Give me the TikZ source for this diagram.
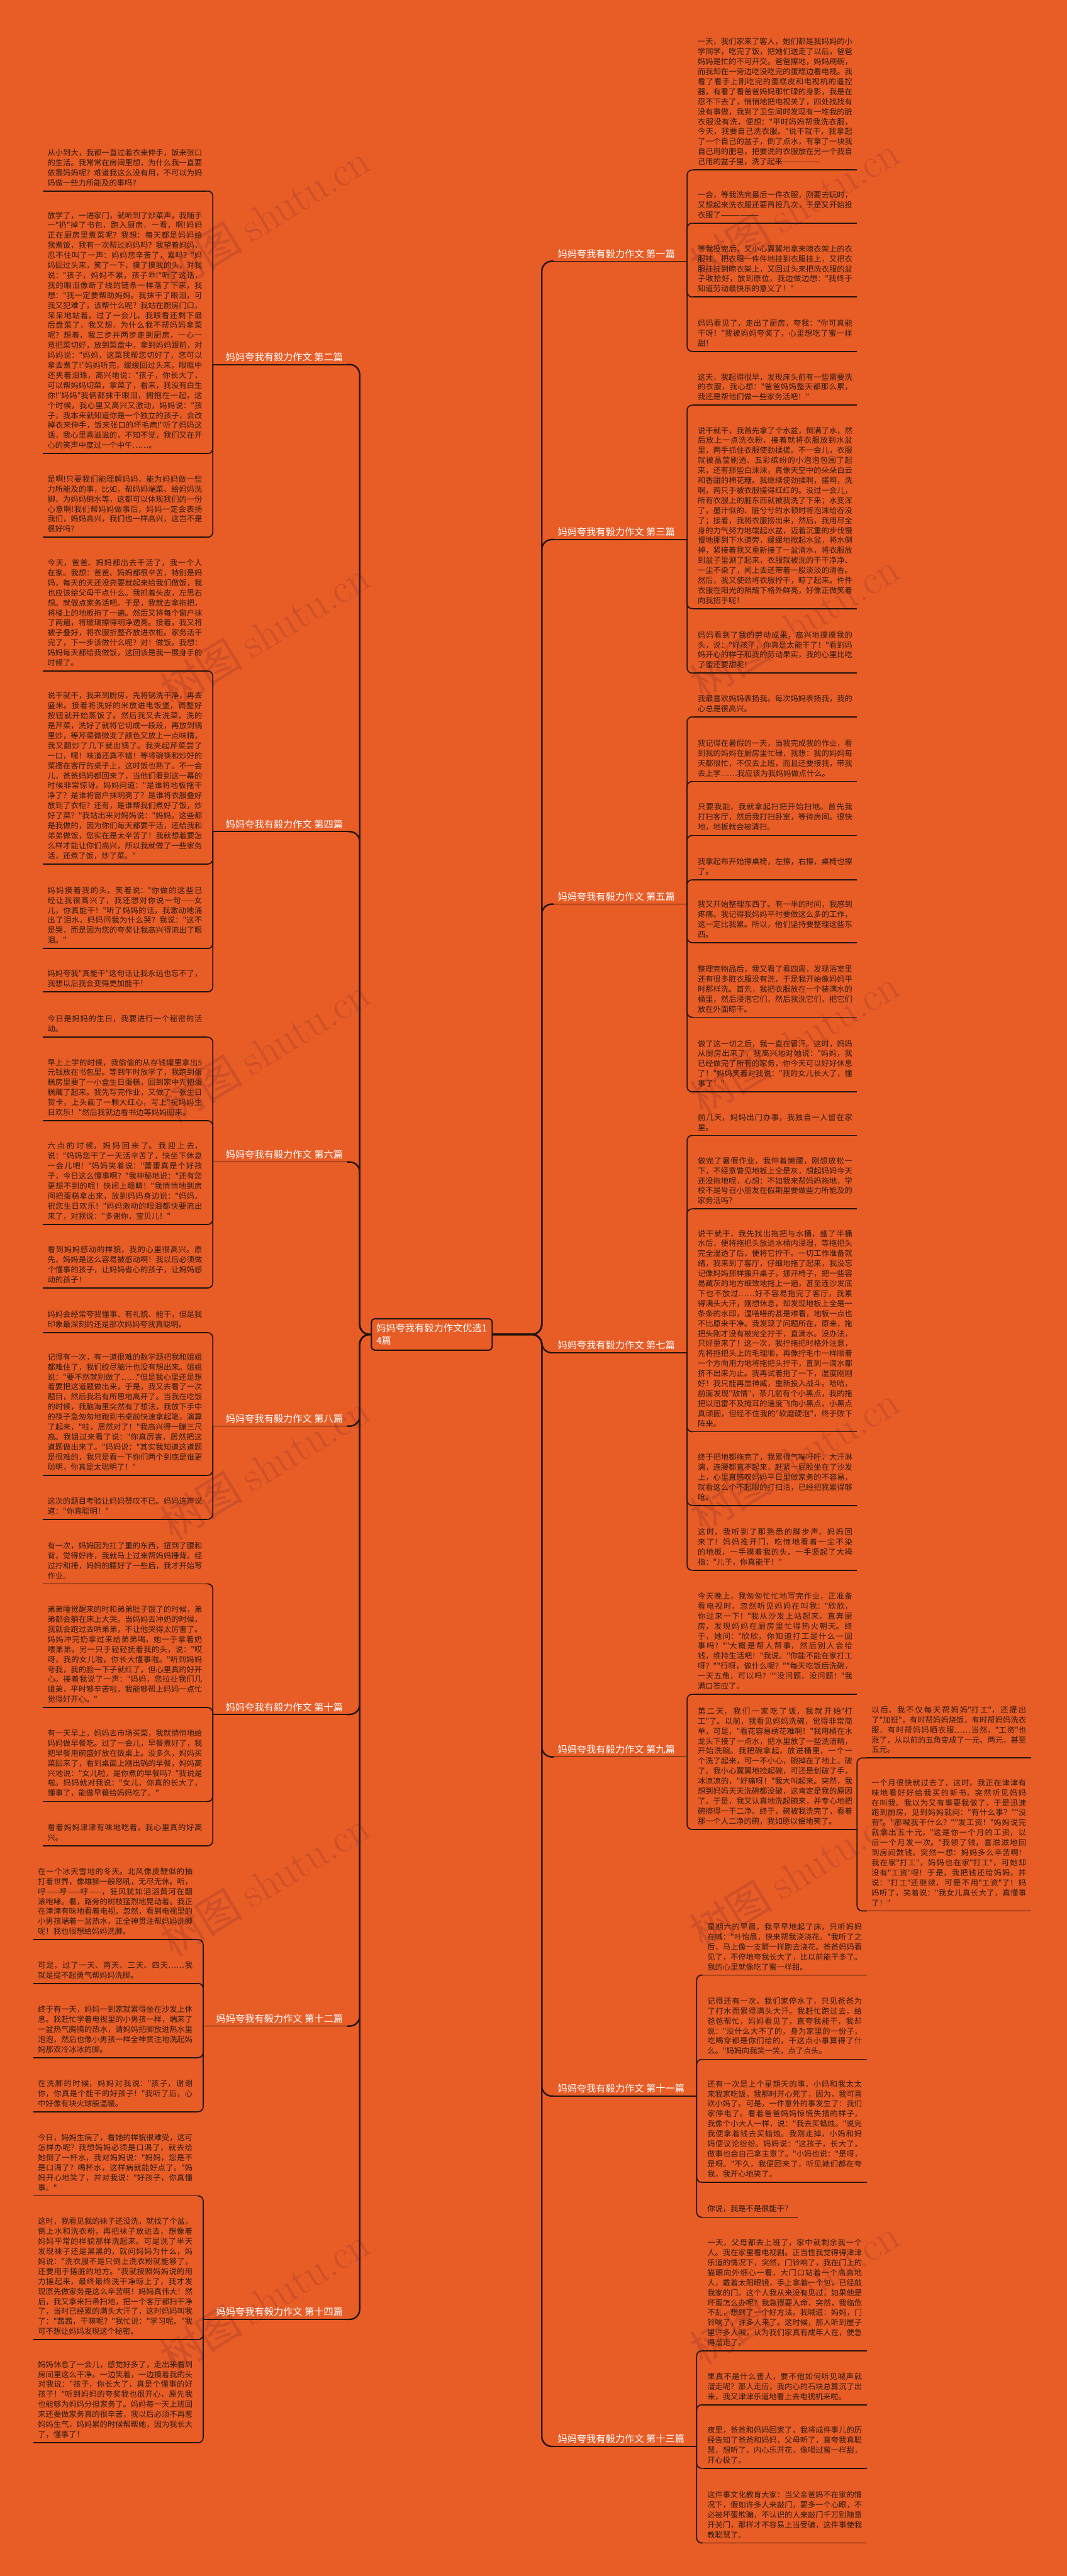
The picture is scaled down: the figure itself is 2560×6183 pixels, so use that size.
\documentclass[tikz,border=0pt]{standalone}
\usepackage{fontspec}
\newfontfamily\cjk{Noto Sans CJK SC}
\XeTeXlinebreaklocale "zh"
\XeTeXlinebreakskip=0pt plus 2pt

\begin{document}
\begin{tikzpicture}[x=1pt, y=-1pt,
  leaf/.style={anchor=north west, text width=371pt, align=justify, inner xsep=11pt, inner ysep=11pt, font=\cjk\fontsize{18.5}{24}\selectfont, text=inkbrown},
  topic/.style={font=\cjk\fontsize{23}{28}\selectfont, text=white, inner xsep=10pt, inner ysep=7pt},
  uline/.style={draw=linebrown, line width=2.6pt},
  twig/.style={draw=linebrown, line width=2.6pt, rounded corners=12pt},
  trunk/.style={draw=linebrown, line width=3.6pt, rounded corners=24pt},
  wmark/.style={font=\cjk\fontsize{100}{110}\selectfont, text=wmcol, rotate=31.5}]
  \definecolor{bgorange}{RGB}{232,92,38}
  \definecolor{wmcol}{RGB}{206,80,40}
  \definecolor{inkbrown}{RGB}{48,27,18}
  \definecolor{linebrown}{RGB}{35,20,12}

  % page and watermarks
  \useasboundingbox (0,0) rectangle (2560,6183);
  \fill[bgorange] (0,0) rectangle (2560,6183);
  \foreach \k in {0,...,5} {
    \node[wmark] (wl\k) at (635, 520+1000*\k) {树图 {\rmfamily shutu.cn}};
    \node[wmark] (wr\k) at (1906, 500+1000*\k) {树图 {\rmfamily shutu.cn}};
  }

  % root
  \node[draw=linebrown, line width=3pt, rounded corners=8pt, inner sep=12pt, align=left, font=\cjk\fontsize{23}{30}\selectfont, text=white] (root) at (1036, 3203) {妈妈夸我有毅力作文优选1\\4篇};

  % topics, right side
  \node[topic, anchor=south west] (lab1) at (1328, 627) {妈妈夸我有毅力作文 第一篇};
  \node[topic, anchor=south west] (lab3) at (1328, 1295) {妈妈夸我有毅力作文 第三篇};
  \node[topic, anchor=south west] (lab5) at (1328, 2170) {妈妈夸我有毅力作文 第五篇};
  \node[topic, anchor=south west] (lab7) at (1328, 3247) {妈妈夸我有毅力作文 第七篇};
  \node[topic, anchor=south west] (lab9) at (1328, 4217) {妈妈夸我有毅力作文 第九篇};
  \node[topic, anchor=south west] (lab11) at (1328, 5031) {妈妈夸我有毅力作文 第十一篇};
  \node[topic, anchor=south west] (lab13) at (1328, 5872) {妈妈夸我有毅力作文 第十三篇};

  % topics, left side
  \node[topic, anchor=south east] (lab2) at (833, 875) {妈妈夸我有毅力作文 第二篇};
  \node[topic, anchor=south east] (lab4) at (833, 1996) {妈妈夸我有毅力作文 第四篇};
  \node[topic, anchor=south east] (lab6) at (833, 2789) {妈妈夸我有毅力作文 第六篇};
  \node[topic, anchor=south east] (lab8) at (833, 3423) {妈妈夸我有毅力作文 第八篇};
  \node[topic, anchor=south east] (lab10) at (833, 4115) {妈妈夸我有毅力作文 第十篇};
  \node[topic, anchor=south east] (lab12) at (833, 4863) {妈妈夸我有毅力作文 第十二篇};
  \node[topic, anchor=south east] (lab14) at (833, 5567) {妈妈夸我有毅力作文 第十四篇};

  % leaves of the first essay
  \node[leaf] (r1a) at (1663, 80) {一天，我们家来了客人，她们都是我妈妈的小学同学，吃完了饭，把她们送走了以后，爸爸妈妈是忙的不可开交。爸爸擦地，妈妈刷碗，而我却在一旁边吃没吃完的蛋糕边看电视。我看了看手上刚吃完的蛋糕皮和电视机的遥控器，有看了看爸爸妈妈那忙碌的身影，我是在忍不下去了，悄悄地把电视关了，四处找找有没有事做，我到了卫生间时发现有一堆我的脏衣服没有洗，便想："平时妈妈帮我洗衣服，今天，我要自己洗衣服。"说干就干，我拿起了一个自己的盆子，倒了点水，有拿了一块我自己用的肥皂，把要洗的衣服放在另一个我自己用的盆子里，洗了起来——————};
  \node[leaf] (r1b) at (1663, 448) {一会，等我洗完最后一件衣服，刚要去玩时，又想起来洗衣服还要再投几次，于是又开始投衣服了——————};
  \node[leaf] (r1c) at (1663, 577) {等我投完后，又小心翼翼地拿来晾衣架上的衣服挂，把衣服一件件地挂到衣服挂上，又把衣服挂挂到晾衣架上，又回过头来把洗衣服的盆子收拾好，放到原位，我边做边想："我终于知道劳动最快乐的意义了！"};
  \node[leaf] (r1d) at (1663, 756) {妈妈看见了，走出了厨房，夸我："你可真能干呀！"我被妈妈夸奖了，心里想吃了蜜一样甜！};

  % leaves of the third essay
  \node[leaf] (r3a) at (1663, 885) {这天，我起得很早，发现床头前有一些需要洗的衣服，我心想："爸爸妈妈整天都那么累，我还是帮他们做一些家务活吧！"};
  \node[leaf] (r3b) at (1663, 1013) {说干就干，我首先拿了个水盆，倒满了水，然后放上一点洗衣粉，接着就将衣服放到水盆里，两手抓住衣服使劲揉搓。不一会儿，衣服就被晶莹剔透、五彩缤纷的小泡泡包围了起来，还有那些白沫沫，真像天空中的朵朵白云和香甜的棉花糖。我继续使劲揉啊，搓啊，洗啊，两只手被衣服搓得红红的。没过一会儿，所有衣服上的脏东西就被我洗了下来；水变浑了，墨汁似的、脏兮兮的水顿时将泡沫给吞没了；接着，我将衣服捞出来，然后，我用尽全身的力气努力地端起水盆，迈着沉重的步伐慢慢地挪到下水道旁，缓缓地掀起水盆，将水倒掉，紧接着我又重新接了一盆清水，将衣服放到盆子里涮了起来，衣服就被洗的干干净净、一尘不染了，闻上去还带着一股淡淡的清香。然后，我又使劲将衣服拧干，晾了起来。件件衣服在阳光的照耀下格外鲜亮，好像正微笑着向我招手呢！};
  \node[leaf] (r3c) at (1663, 1504) {妈妈看到了我的劳动成果，高兴地摸摸我的头，说："好孩子，你真是太能干了！"看到妈妈开心的样子和我的劳动果实，我的心里比吃了蜜还要甜呢！};

  % leaves of the fifth essay
  \node[leaf] (r5a) at (1663, 1657) {我最喜欢妈妈表扬我。每次妈妈表扬我，我的心总是很高兴。};
  \node[leaf] (r5b) at (1663, 1764) {我记得在暑假的一天，当我完成我的作业，看到我的妈妈在厨房里忙碌，我想：我的妈妈每天都很忙，不仅去上班，而且还要接我，带我去上学……我应该为我妈妈做点什么。};
  \node[leaf] (r5c) at (1663, 1917) {只要我能，我就拿起扫把开始扫地。首先我打扫客厅，然后我打扫卧室，等待房间。很快地，地板就会被清扫。};
  \node[leaf] (r5d) at (1663, 2048) {我拿起布开始擦桌椅，左擦，右擦，桌椅也擦了。};
  \node[leaf] (r5e) at (1663, 2151) {我又开始整理东西了。有一半的时间，我感到疼痛。我记得我妈妈平时要做这么多的工作，这一定比我累。所以，他们坚持要整理这些东西。};
  \node[leaf] (r5f) at (1663, 2306) {整理完物品后，我又看了看四周，发现浴室里还有很多脏衣服没有洗，于是我开始像妈妈平时那样洗。首先，我把衣服放在一个装满水的桶里，然后浸泡它们，然后我洗它们，把它们放在外面晾干。};
  \node[leaf] (r5g) at (1663, 2485) {做了这一切之后，我一直在冒汗。这时，妈妈从厨房出来了，我高兴地对她说："妈妈，我已经做完了所有的家务，你今天可以好好休息了！"妈妈笑着对我说："我的女儿长大了，懂事了！"};

  % leaves of the seventh essay
  \node[leaf] (r7a) at (1663, 2662) {前几天，妈妈出门办事，我独自一人留在家里。};
  \node[leaf] (r7b) at (1663, 2766) {做完了暑假作业，我伸着懒腰，刚想放松一下，不经意瞥见地板上全是灰，想起妈妈今天还没拖地呢，心想：不如我来帮妈妈拖地，学校不是号召小朋友在假期里要做些力所能及的家务活吗？};
  \node[leaf] (r7c) at (1663, 2941) {说干就干，我先找出拖把与水桶，盛了半桶水后，便将拖把头放进水桶内浸湿，等拖把头完全湿透了后，便将它拧干。一切工作准备就绪，我来到了客厅，仔细地拖了起来，我没忘记像妈妈那样搬开桌子，挪开椅子，把一些容易藏灰的地方细致地拖上一遍，甚至连沙发底下也不放过……好不容易拖完了客厅，我累得满头大汗，刚想休息，却发现地板上全是一条条的水印，湿嗒嗒的甚是难看，地板一点也不比原来干净。我发现了问题所在，原来，拖把头刚才没有被完全拧干，直滴水。没办法，只好重来了！这一次，我拧拖把时格外注意，先将拖把头上的毛理顺，再像拧毛巾一样顺着一个方向用力地将拖把头拧干，直到一滴水都挤不出来为止。我再试着拖了一下，湿度刚刚好！我只能再显神威，重新投入战斗。哈哈，前面发现"敌情"，茶几前有个小黑点，我的拖把以迅雷不及掩耳的速度飞向小黑点，小黑点真顽固，但经不住我的"软磨硬泡"，终于败下阵来。};
  \node[leaf] (r7d) at (1663, 3478) {终于把地都拖完了，我累得气喘吁吁，大汗淋漓，连腰都直不起来，赶紧一屁股坐在了沙发上，心里直感叹妈妈平日里做家务的不容易，就看这么个不起眼的打扫活，已经把我累得够呛。};
  \node[leaf] (r7e) at (1663, 3657) {这时，我听到了那熟悉的脚步声，妈妈回来了！妈妈推开门，吃惊地看着一尘不染的地板，一手摸着我的头，一手竖起了大拇指："儿子，你真能干！"};

  % leaves of the ninth essay
  \node[leaf] (r9a) at (1663, 3811) {今天晚上，我匆匆忙忙地写完作业，正准备看电视时，忽然听见妈妈在叫我："欣欣，你过来一下！"我从沙发上站起来，直奔厨房，发现妈妈在厨房里忙得热火朝天。终于，她问："欣欣，你知道打工是什么一回事吗？""大概是帮人帮事，然后别人会给钱，维持生活吧！"我说。"你能不能在家打工呀？""行呀，做什么呢？""每天吃饭后洗碗，一天五角，可以吗？""没问题，没问题！"我满口答应了。};
  \node[leaf] (r9b) at (1663, 4087) {第二天，我们一家吃了饭，我就开始"打工"了。以前，我看见妈妈洗碗，觉得非常简单，可是，"看花容易绣花难啊！"我用桶在水龙头下接了一点水，把水里放了一些洗洁精，开始洗碗。我把碗拿起，放进桶里，一个一个洗了起来，可一不小心，碗掉在了地上，破了。我小心翼翼地捡起碗，可还是划破了手，冰凉凉的，"好痛呀！"我大叫起来。突然，我想到妈妈天天洗碗都没破，这肯定是我的原因了。于是，我又认真地洗起碗来，并专心地把碗擦得一干二净。终于，碗被我洗完了，看着那一个人二净的碗，我如愿以偿地笑了。};
  \node[leaf] (r9b1) at (2080, 4084) {以后，我不仅每天帮妈妈"打工"，还提出了"加班"，有时帮妈妈烧饭，有时帮妈妈洗衣服，有时帮妈妈晒衣服……当然，"工资"也涨了，从以前的五角变成了一元、两元，甚至五元。};
  \node[leaf] (r9b2) at (2080, 4259) {一个月很快就过去了，这时，我正在津津有味地看好好给我买的新书，突然听见妈妈在叫我。我以为又有事要我做了，于是迅速跑到厨房，见到妈妈就问："有什么事？""没有"。"那喊我干什么？""发工资！"妈妈说完就拿出五十元，"这是你一个月的工资，以后一个月发一次。"我领了钱，喜滋滋地回到房间数钱，突然一想：妈妈多么辛苦啊！我在家"打工"，妈妈也在家"打工"，可她却没有"工资"呀！于是，我把钱还给妈妈，并说："打工"还继续，可是不用"工资"了！妈妈听了，笑着说："我女儿真长大了，真懂事了！"};

  % leaves of the eleventh essay
  \node[leaf] (r11a) at (1686, 4605) {星期六的早晨，我早早地起了床，只听妈妈在喊："叶怡晨，快来帮我浇浇花。"我听了之后，马上像一支箭一样跑去浇花。爸爸妈妈看见了，不停地夸我长大了，比以前能干多了。我的心里就像吃了蜜一样甜。};
  \node[leaf] (r11b) at (1686, 4783) {记得还有一次，我们家停水了，只见爸爸为了打水而累得满头大汗。我赶忙跑过去，给爸爸帮忙，妈妈看见了，直夸我能干，我却说："没什么大不了的，身为家里的一份子，吃喝穿都是你们给的，干这点小事算得了什么。"妈妈向我笑一笑，点了点头。};
  \node[leaf] (r11c) at (1686, 4982) {还有一次是上个星期天的事，小妈和我太太来我家吃饭，我那时开心死了，因为，我可喜欢小妈了。可是，一件意外的事发生了：我们家停电了。看着爸爸妈妈惊慌失措的样子，我像个小大人一样，说："我去买蜡烛。"说完我便拿着钱去买蜡烛。我刚走掉，小妈和妈妈便议论纷纷。妈妈说："这孩子，长大了，做事也会自己拿主意了。"小妈也说："是呀，是呀。"不久，我便回来了，听见她们都在夸我，我开心地笑了。};
  \node[leaf, text width=205pt] (r11d) at (1686, 5282) {你说，我是不是很能干？};

  % leaves of the thirteenth essay
  \node[leaf] (r13a) at (1686, 5363) {一天，父母都去上班了，家中就剩余我一个人。我在家里看电视剧。正当性我觉得得津津乐道的情况下，突然，门铃响了，我在门上的猫眼向外细心一看，大门口站着一个高高地人，戴着太阳眼镜，手上拿着一个包，已经敲我家的门。这个人我从来没有见过，如果他是坏蛋怎么办呢？我急得要人命，突然，我临危不乱，想到了一个好方法。我喊道：妈妈，门铃响了，许多人来了。这时候，那人听到屋子里许多人喊，认为我们家真有成年人在，便急得溜走了。};
  \node[leaf] (r13b) at (1686, 5684) {果真不是什么善人，要不他如何听见喊声就溜走呢？那人走后，我内心的石块总算沉了出来，我又津津乐道地看上去电视机来啦。};
  \node[leaf] (r13c) at (1686, 5813) {夜里，爸爸和妈妈回家了，我将成件事儿的历经告知了爸爸和妈妈，父母听了，直夸我真聪慧，想听了，内心乐开花，像喝过蜜一样甜，开心极了。};
  \node[leaf] (r13d) at (1686, 5968) {这件事文化教育大家：当父亲爸妈不在家的情况下，假如许多人来敲门，要多一个心眼，不必被坏蛋欺骗，不认识的人来敲门千万别随意开关门，那样才不容易上当受骗，这件事使我教聪慧了。};

  % leaves of the second essay
  \node[leaf] (l2a) at (103, 347) {从小到大，我都一直过着衣来伸手，饭来张口的生活。我常常在房间里想，为什么我一直要依靠妈妈呢？难道我这么没有用，不可以为妈妈做一些力所能及的事吗？};
  \node[leaf] (l2b) at (103, 497) {放学了，一进家门，就听到了炒菜声，我随手一"扔"掉了书包，跑入厨房，一看，啊!妈妈正在厨房里煮菜呢？我想：每天都是妈妈给我煮饭，我有一次帮过妈妈吗？我望着妈妈，忍不住叫了一声：妈妈您辛苦了，累吗？"妈妈回过头来，笑了一下，摸了摸我的头，对我说："孩子，妈妈不累，孩子乖!"听了这话，我的眼泪像断了线的链条一样落了下来，我想："我一定要帮助妈妈。我抹干了眼泪，可我又犯难了，该帮什么呢？我站在厨房门口，呆呆地站着，过了一会儿，我眼看还剩下最后盘菜了，我又想，为什么我不帮妈妈拿菜呢？想着，我三步并两步走到厨房，一心一意把菜切好，放到菜盘中，拿到妈妈跟前，对妈妈说："妈妈，这菜我帮您切好了，您可以拿去煮了!"妈妈听完，缓缓回过头来，眼眶中还夹着泪珠，高兴地说："孩子，你长大了，可以帮妈妈切菜，拿菜了，看来，我没有白生你!"妈妈"我俩都抹干眼泪，拥抱在一起，这个时候，我心里又高兴又激动，妈妈说："孩子，我本来就知道你是一个独立的孩子，会改掉衣来伸手，饭来张口的坏毛病!"听了妈妈这话，我心里喜滋滋的，不知不觉，我们又在开心的笑声中度过一个中午……。};
  \node[leaf] (l2c) at (103, 1130) {是啊!只要我们能理解妈妈，能为妈妈做一些力所能及的事，比如，帮妈妈端菜、给妈妈洗脚、为妈妈倒水等，这都可以体现我们的一份心意啊!我们帮妈妈做事后，妈妈一定会表扬我们，妈妈高兴，我们也一样高兴，这岂不是很好吗？};

  % leaves of the fourth essay
  \node[leaf] (l4a) at (103, 1331) {今天，爸爸、妈妈都出去干活了，我一个人在家。我想：爸爸、妈妈都很辛苦，特别是妈妈，每天的天还没亮要就起来给我们做饭，我也应该给父母干点什么。我抓着头皮，左思右想。就做点家务活吧。于是，我就去拿拖把，将楼上的地板拖了一遍。然后又将每个窗户抹了两遍，将玻璃擦得明净透亮。接着，我又将被子叠好，将衣服折整齐放进衣柜。家务活干完了，下一步该做什么呢？对！做饭。我想：妈妈每天都给我做饭，这回该是我一展身手的时候了。};
  \node[leaf] (l4b) at (103, 1650) {说干就干，我来到厨房，先将锅洗干净，再去盛米。接着将洗好的米放进电饭堡，调整好按钮就开始蒸饭了。然后我又去洗菜，洗的是芹菜，洗好了就将它切成一段段，再放到锅里炒，等芹菜微微变了颜色又放上一点味精，我又翻炒了几下就出锅了。我夹起芹菜尝了一口，嘿！味道还真不错！等将碗筷和炒好的菜摆在客厅的桌子上，这时饭也熟了。不一会儿，爸爸妈妈都回来了，当他们看到这一幕的时候非常惊讶。妈妈问道："是谁将地板拖干净了？是谁将窗户抹明亮了？是谁将衣服叠好放到了衣柜？还有，是谁帮我们煮好了饭，炒好了菜？"我站出来对妈妈说："妈妈，这些都是我做的，因为你们每天都要干活，还给我和弟弟做饭，您实在是太辛苦了！我就想着要怎么样才能让你们高兴，所以我就做了一些家务活，还煮了饭，炒了菜。"};
  \node[leaf] (l4c) at (103, 2117) {妈妈摸着我的头，笑着说："你做的这些已经让我很高兴了，我还想对你说一句——女儿，你真能干！"听了妈妈的话，我激动地涌出了泪水，妈妈问我为什么哭？我说："这不是哭，而是因为您的夸奖让我高兴得流出了眼泪。"};
  \node[leaf] (l4d) at (103, 2317) {妈妈夸我"真能干"这句话让我永远也忘不了，我想以后我会变得更加能干！};

  % leaves of the sixth essay
  \node[leaf] (l6a) at (103, 2426) {今日是妈妈的生日，我要进行一个秘密的活动。};
  \node[leaf] (l6b) at (103, 2530) {早上上学的时候，我偷偷的从存钱罐里拿出5元钱放在书包里。等到午时放学了，我跑到蛋糕房里要了一小盒生日蛋糕，回到家中先把蛋糕藏了起来。我先写完作业，又做了一张生日贺卡，上头画了一颗大红心，写上"祝妈妈生日欢乐！"然后我就边看书边等妈妈回来。};
  \node[leaf] (l6c) at (103, 2731) {六点的时候，妈妈回来了。我迎上去，说："妈妈您干了一天活辛苦了，快坐下休息一会儿吧！"妈妈笑着说："蕾蕾真是个好孩子，今日这么懂事啊？"我神秘地说："还有您更想不到的呢！快闭上眼睛！"我悄悄地到房间把蛋糕拿出来，放到妈妈身边说："妈妈，祝您生日欢乐！"妈妈激动的眼泪都快要流出来了，对我说："多谢你，宝贝儿！"};
  \node[leaf] (l6d) at (103, 2980) {看到妈妈感动的样貌，我的心里很高兴。原先，妈妈是这么容易被感动啊！我以后必须做个懂事的孩子，让妈妈省心的孩子，让妈妈感动的孩子！};

  % leaves of the eighth essay
  \node[leaf] (l8a) at (103, 3135) {妈妈会经常夸我懂事、有礼貌、能干，但是我印象最深刻的还是那次妈妈夸我真聪明。};
  \node[leaf] (l8b) at (103, 3237) {记得有一次，有一道很难的数学题把我和姐姐都难住了，我们绞尽脑汁也没有想出来。姐姐说："要不然就别做了……"但是我心里还是想着要把这道题做出来，于是，我又去看了一次题目，然后我若有所思地离开了。当我在吃饭的时候，我脑海里突然有了想法，我放下手中的筷子急匆匆地跑到书桌前快速拿起笔，演算了起来，"哇，居然对了！"我高兴得一蹦三尺高。我姐过来看了说："你真厉害，居然把这道题做出来了。"妈妈说："其实我知道这道题是很难的，我只是看一下你们两个到底是谁更聪明，你真是太聪明了！"};
  \node[leaf] (l8c) at (103, 3583) {这次的题目考验让妈妈赞叹不已。妈妈连声说道："你真聪明！"};

  % leaves of the tenth essay
  \node[leaf] (l10a) at (103, 3690) {有一次，妈妈因为扛了重的东西，扭到了腰和背，觉得好疼，我就马上过来帮妈妈捶背。经过拧和捶，妈妈的腰好了一些后，我才开始写作业。};
  \node[leaf] (l10b) at (103, 3843) {弟弟睡觉醒来的时和弟弟肚子饿了的时候，弟弟都会躺在床上大哭。当妈妈去冲奶的时候，我就会跑过去哄弟弟，不让他哭得太厉害了。妈妈冲完奶拿过来给弟弟喝，她一手拿着奶喂弟弟，另一只手轻轻抚着我的头，说："哎呀，我的女儿啦，你长大懂事啦。"听到妈妈夸我，我的脸一下子就红了，但心里真的好开心。接着我说了一声："妈妈，您拉扯我们几姐弟，平时够辛苦啦，我能够帮上妈妈一点忙觉得好开心。"};
  \node[leaf] (l10c) at (103, 4140) {有一天早上，妈妈去市场买菜，我就悄悄地给妈妈做早餐吃。过了一会儿，早餐煮好了，我把早餐用碗盛好放在饭桌上。没多久，妈妈买菜回来了，看到桌面上刚出锅的早餐，妈妈高兴地说："女儿啦，是你煮的早餐吗？"我说是啦。妈妈就对我说："女儿，你真的长大了，懂事了，能做早餐给妈妈吃了。"};
  \node[leaf] (l10d) at (103, 4367) {看着妈妈津津有味地吃着，我心里真的好高兴。};

  % leaves of the twelfth essay
  \node[leaf] (l12a) at (80, 4472) {在一个冰天雪地的冬天。北风像皮鞭似的抽打着世界，像雄狮一般怒吼，无尽无休。听，呼——呼——呼——，狂风犹如滔滔黄河在翻滚咆哮。看，路旁的树枝猛烈地晃动着。我正在津津有味地看着电视。忽然，看到电视里的小男孩端着一盆热水，正全神贯注帮妈妈洗脚呢！我也很想给妈妈洗脚。};
  \node[leaf] (l12b) at (80, 4697) {可是，过了一天、两天、三天、四天……我就是提不起勇气帮妈妈洗脚。};
  \node[leaf] (l12c) at (80, 4803) {终于有一天，妈妈一到家就累得坐在沙发上休息。我赶忙学着电视里的小男孩一样，端来了一盆热气腾腾的热水，请妈妈把脚放进热水里泡泡，然后也像小男孩一样全神贯注地洗起妈妈那双冷冰冰的脚。};
  \node[leaf] (l12d) at (80, 4981) {在洗脚的时候，妈妈对我说："孩子，谢谢你，你真是个能干的好孩子！"我听了后，心中好像有块火球般温暖。};

  % leaves of the fourteenth essay
  \node[leaf] (l14a) at (80, 5111) {今日，妈妈生病了，看她的样貌很难受，这可怎样办呢？我想妈妈必须是口渴了，就去给她倒了一杯水，我对妈妈说："妈妈，您是不是口渴了？喝杯水，这样病就能好点了。"妈妈开心地笑了，并对我说："好孩子，你真懂事。"};
  \node[leaf] (l14b) at (80, 5312) {这时，我看见我的袜子还没洗，就找了个盆，倒上水和洗衣粉，再把袜子放进去，想像着妈妈平常的样貌那样洗起来。可是洗了半天发现袜子还是黑黑的，就问妈妈为什么，妈妈说："洗衣服不是只倒上洗衣粉就能够了，还要用手搓脏的地方。"我就按照妈妈说的用力搓起来，最终最终洗干净晾上了，我才发现原先做家务是这么辛苦啊！妈妈真伟大！然后，我又拿来扫帚扫地，把一个客厅都扫干净了，当时已经累的满头大汗了，这时妈妈叫我了："茜茜，干嘛呢？"我忙说："学习呢。"我可不想让妈妈发现这个秘密。};
  \node[leaf] (l14c) at (80, 5655) {妈妈休息了一会儿，感觉好多了，走出来看到房间里这么干净。一边笑着，一边摸着我的头对我说："孩子，你长大了，真是个懂事的好孩子！"听到妈妈的夸奖我也很开心，原先我也能够为妈妈分担家务了。妈妈每一天上班回来还要做家务真的很辛苦，我以后必须不再惹妈妈生气，妈妈累的时候帮帮她，因为我长大了，懂事了！};

  % underlines of the leaves
  \foreach \n in {r1a,r1b,r1c,r1d,r3a,r3b,r3c,r5a,r5b,r5c,r5d,r5e,r5f,r5g,r7a,r7b,r7c,r7d,r7e,r9a,r9b,r9b1,r9b2,r11a,r11b,r11c,r11d,r13a,r13b,r13c,r13d,l2a,l2b,l2c,l4a,l4b,l4c,l4d,l6a,l6b,l6c,l6d,l8a,l8b,l8c,l10a,l10b,l10c,l10d,l12a,l12b,l12c,l12d,l14a,l14b,l14c}
    \draw[uline] (\n.south west) -- (\n.south east);

  % branch points at the end of each topic line
  \foreach \t in {1,3,5,7,9,11,13} {
    \coordinate (b\t) at ([xshift=19pt]lab\t.south east);
    \draw[uline] (lab\t.south west) -- (b\t);
  }
  \foreach \t in {2,4,6,8,10,12,14} {
    \coordinate (b\t) at ([xshift=-21pt]lab\t.south west);
    \draw[uline] (lab\t.south east) -- (b\t);
  }

  % root to topics
  \foreach \t in {1,3,5,7,9,11,13}
    \draw[trunk] (root.east) -| ([xshift=-28pt]lab\t.south west) -- (lab\t.south west);
  \foreach \t in {2,4,6,8,10,12,14}
    \draw[trunk] (root.west) -| ([xshift=30pt]lab\t.south east) -- (lab\t.south east);

  % topics to leaves, right
  \foreach \n in {r1a,r1b,r1c,r1d} \draw[twig] (b1) |- (\n.south west);
  \foreach \n in {r3a,r3b,r3c} \draw[twig] (b3) |- (\n.south west);
  \foreach \n in {r5a,r5b,r5c,r5d,r5e,r5f,r5g} \draw[twig] (b5) |- (\n.south west);
  \foreach \n in {r7a,r7b,r7c,r7d,r7e} \draw[twig] (b7) |- (\n.south west);
  \foreach \n in {r9a,r9b} \draw[twig] (b9) |- (\n.south west);
  \foreach \n in {r9b1,r9b2} \draw[twig] (r9b.south east) |- (\n.south west);
  \foreach \n in {r11a,r11b,r11c,r11d} \draw[twig] (b11) |- (\n.south west);
  \foreach \n in {r13a,r13b,r13c,r13d} \draw[twig] (b13) |- (\n.south west);

  % topics to leaves, left
  \foreach \n in {l2a,l2b,l2c} \draw[twig] (b2) |- (\n.south east);
  \foreach \n in {l4a,l4b,l4c,l4d} \draw[twig] (b4) |- (\n.south east);
  \foreach \n in {l6a,l6b,l6c,l6d} \draw[twig] (b6) |- (\n.south east);
  \foreach \n in {l8a,l8b,l8c} \draw[twig] (b8) |- (\n.south east);
  \foreach \n in {l10a,l10b,l10c,l10d} \draw[twig] (b10) |- (\n.south east);
  \foreach \n in {l12a,l12b,l12c,l12d} \draw[twig] (b12) |- (\n.south east);
  \foreach \n in {l14a,l14b,l14c} \draw[twig] (b14) |- (\n.south east);
\end{tikzpicture}
\end{document}
